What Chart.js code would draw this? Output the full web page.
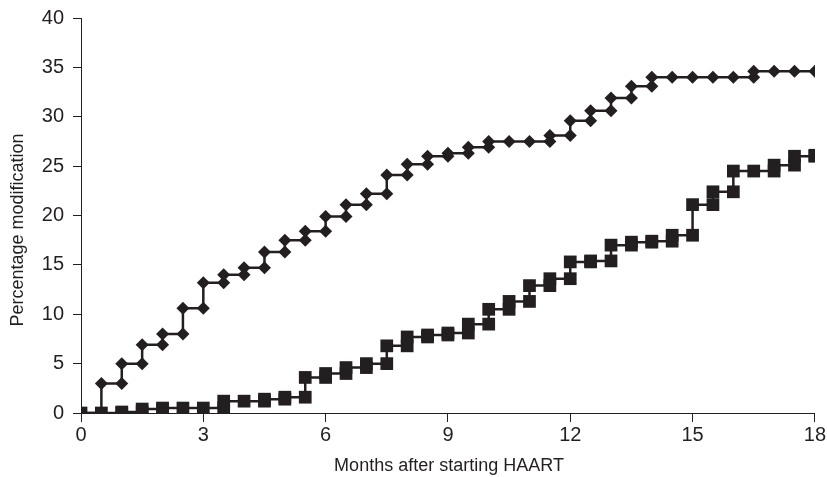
<!DOCTYPE html>
<html lang="en">
<head>
    <meta charset="UTF-8">
    <title>Percentage modification after starting HAART</title>
    <script src="https://cdn.jsdelivr.net/npm/chart.js"></script>
    <style>
        body {
            margin: 0;
            padding: 0;
            background: #fff;
        }
    </style>
</head>
<body>
    <canvas id="chart" width="827" height="477"></canvas>

    <script>
        // months after starting HAART (every half month)
        const months = [0, 0.5, 1, 1.5, 2, 2.5, 3, 3.5, 4, 4.5, 5, 5.5, 6, 6.5, 7, 7.5, 8, 8.5, 9,
            9.5, 10, 10.5, 11, 11.5, 12, 12.5, 13, 13.5, 14, 14.5, 15, 15.5, 16, 16.5, 17, 17.5, 18];

        // upper curve (diamonds)
        const diamondValues = [0, 3.0, 5.0, 6.9, 8.0, 10.6, 13.2, 14.0, 14.7, 16.3, 17.5, 18.4, 19.9,
            21.1, 22.2, 24.1, 25.2, 26.0, 26.3, 26.9, 27.5, 27.5, 27.5, 28.1, 29.6, 30.6, 31.9,
            33.1, 34.0, 34.0, 34.0, 34.0, 34.0, 34.6, 34.6, 34.6, 34.6];

        // lower curve (squares)
        const squareValues = [0, 0, 0.1, 0.4, 0.5, 0.5, 0.5, 1.2, 1.2, 1.4, 1.6, 3.6, 4.0,
            4.6, 5.0, 6.8, 7.7, 7.9, 8.1, 9.0, 10.5, 11.3, 12.9, 13.6, 15.3, 15.4, 17.0,
            17.3, 17.4, 18.0, 21.1, 22.4, 24.5, 24.5, 25.1, 26.0, 26.1];

        const xTicks = [0, 3, 6, 9, 12, 15, 18];
        const yTicks = [0, 5, 10, 15, 20, 25, 30, 35, 40];

        // step curve: a marker before and after every jump
        function stepPoints(vals) {
            const pts = [{ x: months[0], y: vals[0] }];
            for (let i = 1; i < months.length; i++) {
                pts.push({ x: months[i], y: vals[i - 1] });
                if (vals[i] !== vals[i - 1]) {
                    pts.push({ x: months[i], y: vals[i] });
                }
            }
            return pts;
        }

        const ink = '#231f20';
        const fontFamily = "'Liberation Sans', Arial, Helvetica, sans-serif";

        // axis titles
        const axisTitles = {
            id: 'axisTitles',
            afterDraw(chart) {
                const ctx = chart.ctx;
                ctx.save();
                ctx.fillStyle = ink;
                ctx.font = '18px ' + fontFamily;
                ctx.textAlign = 'center';
                ctx.textBaseline = 'middle';
                ctx.fillText('Months after starting HAART', 449, 466);
                ctx.translate(18, 230);
                ctx.rotate(-Math.PI / 2);
                ctx.fillText('Percentage modification', 0, 0);
                ctx.restore();
            }
        };

        new Chart(document.getElementById('chart').getContext('2d'), {
            type: 'scatter',
            data: {
                datasets: [{
                    label: 'Squares',
                    data: stepPoints(squareValues),
                    showLine: true,
                    borderColor: ink,
                    borderWidth: 2.5,
                    backgroundColor: ink,
                    pointStyle: 'rect',
                    pointRadius: 9,
                    pointBorderWidth: 0,
                    pointHoverRadius: 9
                }, {
                    label: 'Diamonds',
                    data: stepPoints(diamondValues),
                    showLine: true,
                    borderColor: ink,
                    borderWidth: 2.5,
                    backgroundColor: ink,
                    pointStyle: 'rectRot',
                    pointRadius: 6.5,
                    pointBorderWidth: 0,
                    pointHoverRadius: 6.5
                }]
            },
            plugins: [axisTitles],
            options: {
                responsive: false,
                animation: false,
                layout: {
                    padding: { top: 18, right: 12, left: 0, bottom: 0 }
                },
                plugins: {
                    legend: { display: false },
                    tooltip: { enabled: false }
                },
                scales: {
                    x: {
                        type: 'linear',
                        min: 0,
                        max: 18,
                        afterBuildTicks: axis => { axis.ticks = xTicks.map(v => ({ value: v })); },
                        afterFit: axis => { axis.height = 64; },
                        grid: {
                            drawOnChartArea: false,
                            drawTicks: true,
                            tickLength: 9,
                            color: ink
                        },
                        border: { display: true, color: ink, width: 1 },
                        ticks: {
                            color: ink,
                            padding: 1,
                            maxRotation: 0,
                            font: { family: fontFamily, size: 20 }
                        }
                    },
                    y: {
                        min: 0,
                        max: 40,
                        afterBuildTicks: axis => { axis.ticks = yTicks.map(v => ({ value: v })); },
                        afterFit: axis => { axis.width = 81; },
                        grid: {
                            drawOnChartArea: false,
                            drawTicks: true,
                            tickLength: 8,
                            color: ink
                        },
                        border: { display: true, color: ink, width: 1 },
                        ticks: {
                            color: ink,
                            padding: 9,
                            font: { family: fontFamily, size: 20, lineHeight: 0.8 }
                        }
                    }
                }
            }
        });
    </script>
</body>
</html>
